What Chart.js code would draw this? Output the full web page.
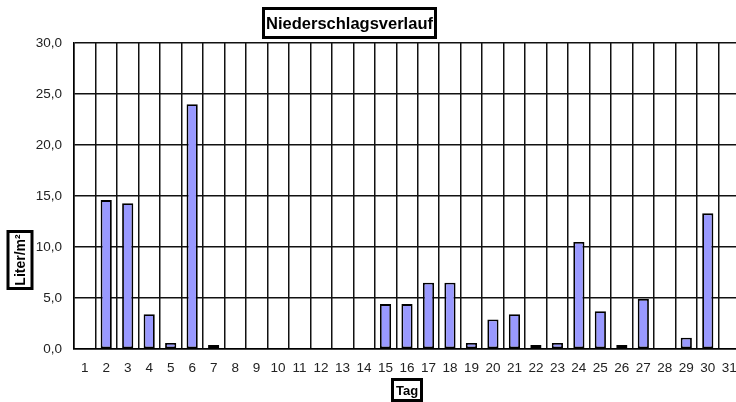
<!DOCTYPE html>
<html>
<head>
<meta charset="utf-8">
<script src="https://cdn.jsdelivr.net/npm/chart.js@4"></script>
<style>
  html, body { margin: 0; padding: 0; background: #fff; overflow: hidden; }
  #wrap { position: relative; width: 742px; height: 402px; }
</style>
</head>
<body>
<div id="wrap"><canvas id="chart" width="742" height="402"></canvas></div>
<script>
const days = ["1","2","3","4","5","6","7","8","9","10","11","12","13","14","15","16",
              "17","18","19","20","21","22","23","24","25","26","27","28","29","30","31"];
const rain = [0, 14.6, 14.3, 3.4, 0.6, 24.0, 0.4, 0, 0, 0, 0, 0, 0, 0, 4.4, 4.4,
              6.5, 6.5, 0.6, 2.9, 3.4, 0.4, 0.6, 10.5, 3.7, 0.4, 4.9, 0, 1.1, 13.3, 0];
const yTicks = ["0,0", "5,0", "10,0", "15,0", "20,0", "25,0", "30,0"];
const chartTitle = "Niederschlagsverlauf";
const xTitle = "Tag";
const yTitle = "Liter/m²";

const FONT = "'Liberation Sans', Arial, sans-serif";

// boxed titles, drawn like the spreadsheet ones
const boxedTitles = {
  id: "boxedTitles",
  afterDraw(chart) {
    const ctx = chart.ctx;
    function box(text, cx, cy, w, h, size, rotate) {
      ctx.save();
      ctx.translate(cx, cy);
      if (rotate) ctx.rotate(-Math.PI / 2);
      ctx.lineWidth = 3;
      ctx.strokeStyle = "#000";
      ctx.fillStyle = "#fff";
      ctx.fillRect(-w / 2, -h / 2, w, h);
      ctx.strokeRect(-w / 2, -h / 2, w, h);
      ctx.fillStyle = "#000";
      ctx.font = "bold " + size + "px " + FONT;
      ctx.textAlign = "center";
      ctx.textBaseline = "middle";
      ctx.fillText(text, 0, 1);
      ctx.restore();
    }
    box(chartTitle, 349.5, 23, 172, 29, 16.5, false);
    box(xTitle, 407, 390, 29, 21, 13, false);
    box(yTitle, 20, 260, 57, 24, 14, true);
  }
};

new Chart(document.getElementById("chart"), {
  type: "bar",
  data: {
    labels: days,
    datasets: [{
      label: "Niederschlag",
      data: rain,
      backgroundColor: "#9999ff",
      borderColor: "#000",
      borderWidth: 1.8,
      borderSkipped: false,
      categoryPercentage: 0.52,
      barPercentage: 1
    }]
  },
  options: {
    responsive: false,
    animation: false,
    devicePixelRatio: 1,
    layout: { padding: { top: 43, right: 2, left: 0, bottom: 0 } },
    plugins: {
      legend: { display: false },
      title: { display: false },
      tooltip: { enabled: false }
    },
    scales: {
      x: {
        grid: { color: "#111", lineWidth: 1.5, drawTicks: false },
        border: { color: "#000", width: 1.5 },
        ticks: { color: "#222", font: { family: FONT, size: 13.5 }, padding: 11, maxRotation: 0, autoSkip: false },
        afterFit(scale) {
          scale.height = 53;
          scale.paddingLeft = 0;
          scale.paddingRight = 0;
        }
      },
      y: {
        min: 0,
        max: 30,
        grid: { color: "#111", lineWidth: 1.5, drawTicks: false },
        border: { color: "#000", width: 1.5 },
        ticks: {
          stepSize: 5,
          color: "#222",
          font: { family: FONT, size: 13.5 },
          padding: 12,
          callback: (v, i) => yTicks[i]
        },
        afterFit(scale) { scale.width = 74; }
      }
    }
  },
  plugins: [boxedTitles]
});
</script>
</body>
</html>
